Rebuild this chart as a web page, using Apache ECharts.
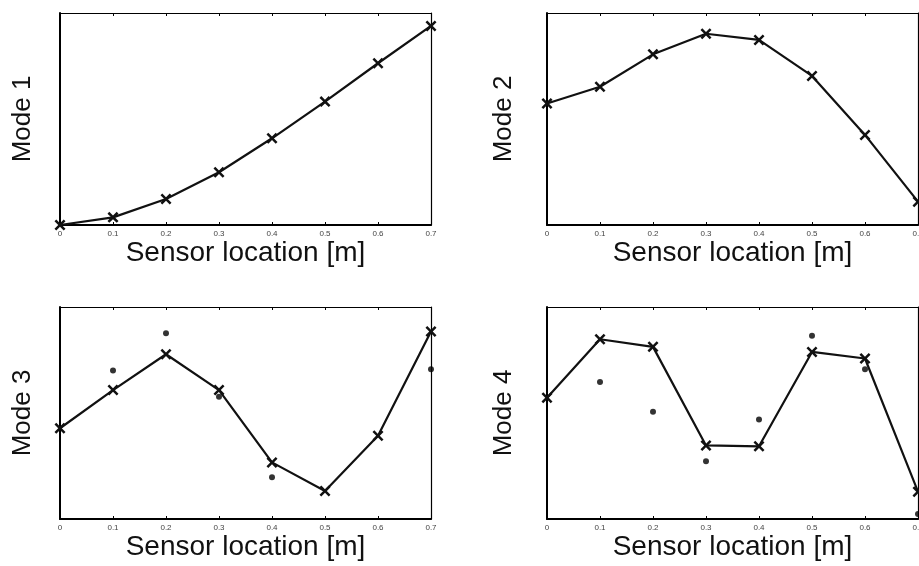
<!DOCTYPE html>
<html>
<head>
<meta charset="utf-8">
<script src="https://cdn.jsdelivr.net/npm/echarts@6/dist/echarts.min.js"></script>
<style>
html,body{margin:0;padding:0;background:#fff;}
#chart{width:919px;height:566px;}
</style>
</head>
<body>
<div id="chart"></div>
<script>
// sensor positions along the beam [m]
var sensors = [0, 0.1, 0.2, 0.3, 0.4, 0.5, 0.6, 0.7];
var xTicks = ['0', '0.1', '0.2', '0.3', '0.4', '0.5', '0.6', '0.7'];
var modeNames = ['Mode 1', 'Mode 2', 'Mode 3', 'Mode 4'];

// fitted mode shapes (normalised)
var mode1 = [0, 0.036, 0.123, 0.249, 0.409, 0.582, 0.763, 0.939];
var mode2 = [0.573, 0.652, 0.805, 0.902, 0.873, 0.703, 0.425, 0.110];
var mode3 = [0.428, 0.608, 0.777, 0.608, 0.267, 0.132, 0.393, 0.884];
var mode4 = [0.572, 0.848, 0.812, 0.347, 0.343, 0.788, 0.757, 0.129];

// measured points (null = hidden under the fitted marker)
var meas3 = [null, 0.700, 0.876, 0.577, 0.197, null, null, 0.706];
var meas4 = [null, 0.646, 0.506, 0.272, 0.469, 0.864, 0.706, 0.024];

var cross = 'path://M0,1.6L1.6,0L5,3.4L8.4,0L10,1.6L6.6,5L10,8.4L8.4,10L5,6.6L1.6,10L0,8.4L3.4,5Z';
var font = 'Liberation Sans';

var grids = [
    {left: 60, top: 13, width: 371, height: 212},
    {left: 547, top: 13, width: 371, height: 212},
    {left: 60, top: 307, width: 371, height: 212},
    {left: 547, top: 307, width: 371, height: 212}
];
var yGaps = [24, 30, 24, 30];
var lines = [mode1, mode2, mode3, mode4];
var dots = [null, null, meas3, meas4];

function pairs(arr){
    var out = [];
    for (var i = 0; i < sensors.length; i++) {
        if (arr[i] !== null) out.push([sensors[i], arr[i]]);
    }
    return out;
}

var grid = [], xAxis = [], yAxis = [], series = [];
for (var g = 0; g < 4; g++) {
    grid.push({
        left: grids[g].left, top: grids[g].top,
        width: grids[g].width, height: grids[g].height,
        outerBoundsMode: 'none', containLabel: false
    });
    xAxis.push({
        type: 'value', gridIndex: g, min: 0, max: 0.7, interval: 0.1,
        position: 'bottom',
        name: 'Sensor location [m]', nameLocation: 'middle', nameGap: 13,
        nameTextStyle: {fontFamily: font, fontSize: 28, color: '#111'},
        axisLine: {onZero: false, lineStyle: {color: '#000', width: 2}},
        axisTick: {inside: true, length: 3, lineStyle: {color: '#000'}},
        axisLabel: {
            fontFamily: font, fontSize: 8, color: '#444', margin: 5,
            formatter: function(v){ return xTicks[Math.round(v * 10)]; }
        },
        splitLine: {show: false}
    });
    xAxis.push({
        type: 'value', gridIndex: g, min: 0, max: 0.7, interval: 0.1,
        position: 'top',
        axisLine: {onZero: false, lineStyle: {color: '#000', width: 1.2}},
        axisTick: {inside: true, length: 3, lineStyle: {color: '#000'}},
        axisLabel: {show: false},
        splitLine: {show: false}
    });
    yAxis.push({
        type: 'value', gridIndex: g, min: 0, max: 1,
        position: 'left',
        name: modeNames[g], nameLocation: 'middle', nameGap: yGaps[g],
        nameTextStyle: {fontFamily: font, fontSize: 26, color: '#111'},
        axisLine: {show: true, onZero: false, lineStyle: {color: '#000', width: 2}},
        axisTick: {show: false},
        axisLabel: {show: false},
        splitLine: {show: false}
    });
    yAxis.push({
        type: 'value', gridIndex: g, min: 0, max: 1,
        position: 'right',
        axisLine: {show: true, onZero: false, lineStyle: {color: '#000', width: 1.2}},
        axisTick: {show: false},
        axisLabel: {show: false},
        splitLine: {show: false}
    });
    series.push({
        type: 'line', xAxisIndex: g * 2, yAxisIndex: g * 2,
        data: pairs(lines[g]),
        symbol: cross, symbolSize: 11, showAllSymbol: true,
        lineStyle: {color: '#111', width: 2.2},
        itemStyle: {color: '#111'},
        clip: false, animation: false
    });
    if (dots[g]) {
        series.push({
            type: 'scatter', xAxisIndex: g * 2, yAxisIndex: g * 2,
            data: pairs(dots[g]),
            symbol: 'circle', symbolSize: 6,
            itemStyle: {color: '#000'},
            clip: false, animation: false
        });
    }
}

var chart = echarts.init(document.getElementById('chart'));
chart.setOption({
    backgroundColor: '#fff',
    animation: false,
    grid: grid,
    xAxis: xAxis,
    yAxis: yAxis,
    series: series
});
</script>
</body>
</html>
